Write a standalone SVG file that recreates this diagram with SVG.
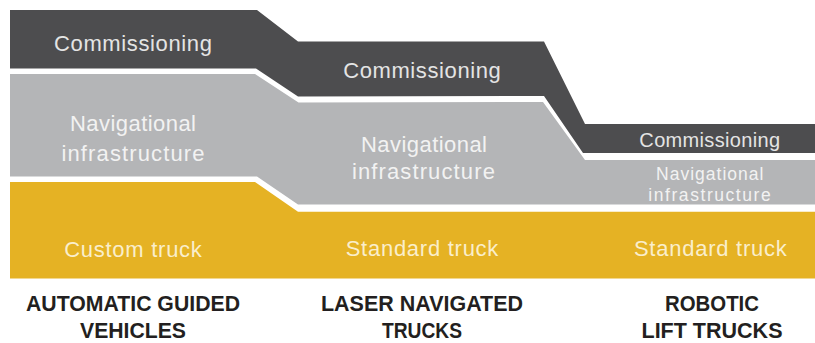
<svg xmlns="http://www.w3.org/2000/svg" width="815" height="343" viewBox="0 0 815 343">
<style>
.dark{fill:#4d4d4f}
.gray{fill:#b4b5b7}
.yel{fill:#e5b224}
.t{font-family:"Liberation Sans",Arial,sans-serif;font-size:22px;text-anchor:middle}
.td{fill:#e4e4e4}
.tg{fill:#f2f2f2}
.ty{fill:#faeecb}
.lab{font-family:"Liberation Sans",Arial,sans-serif;font-size:22.5px;font-weight:bold;fill:#231f20;text-anchor:middle}
</style>
<rect width="815" height="343" fill="#ffffff"/>
<g id="commissioning">
<polygon class="dark" points="10,10 257,10 298,41.5 544,41.5 585,124 815,124 815,153 583,153 544,96 298,96.5 256,68.5 10,68.5"/>
<text class="t td" x="133" y="50.5" textLength="158" lengthAdjust="spacing">Commissioning</text>
<text class="t td" x="422" y="77.7" textLength="157.7" lengthAdjust="spacing">Commissioning</text>
<text class="t td" x="709.7" y="147.3" style="font-size:20px" textLength="140.7" lengthAdjust="spacing">Commissioning</text>
</g>
<g id="navigational">
<polygon class="gray" points="10,74 255,74 298.5,102.5 543,102 585,160 815,160 815,204.5 298,204.5 257,176.5 10,176.5"/>
<text class="t tg" x="133" y="130.6" textLength="126" lengthAdjust="spacing">Navigational</text>
<text class="t tg" x="133" y="161" textLength="143" lengthAdjust="spacing">infrastructure</text>
<text class="t tg" x="424" y="151.7" textLength="126" lengthAdjust="spacing">Navigational</text>
<text class="t tg" x="423.4" y="179" textLength="143" lengthAdjust="spacing">infrastructure</text>
<text class="t tg" x="709.7" y="180" style="font-size:17.5px" textLength="107.3" lengthAdjust="spacing">Navigational</text>
<text class="t tg" x="709.5" y="200.5" style="font-size:17.5px" textLength="122.4" lengthAdjust="spacing">infrastructure</text>
</g>
<g id="truck">
<polygon class="yel" points="10,182 255,182 298,211.7 815,211.7 815,278.5 10,278.5"/>
<text class="t ty" x="133" y="256.6" textLength="137.7" lengthAdjust="spacing">Custom truck</text>
<text class="t ty" x="422" y="256" textLength="152.7" lengthAdjust="spacing">Standard truck</text>
<text class="t ty" x="710.3" y="256" textLength="152.7" lengthAdjust="spacing">Standard truck</text>
</g>
<g id="label-agv">
<text class="lab" x="133" y="310.5" textLength="214" lengthAdjust="spacingAndGlyphs">AUTOMATIC GUIDED</text>
<text class="lab" x="133" y="337.5" textLength="106" lengthAdjust="spacingAndGlyphs">VEHICLES</text>
</g>
<g id="label-lnt">
<text class="lab" x="422" y="310.5" textLength="202" lengthAdjust="spacingAndGlyphs">LASER NAVIGATED</text>
<text class="lab" x="422" y="337.5" textLength="80" lengthAdjust="spacingAndGlyphs">TRUCKS</text>
</g>
<g id="label-rlt">
<text class="lab" x="712" y="310.5" textLength="94" lengthAdjust="spacingAndGlyphs">ROBOTIC</text>
<text class="lab" x="712" y="337.5" textLength="141" lengthAdjust="spacingAndGlyphs">LIFT TRUCKS</text>
</g>
</svg>
